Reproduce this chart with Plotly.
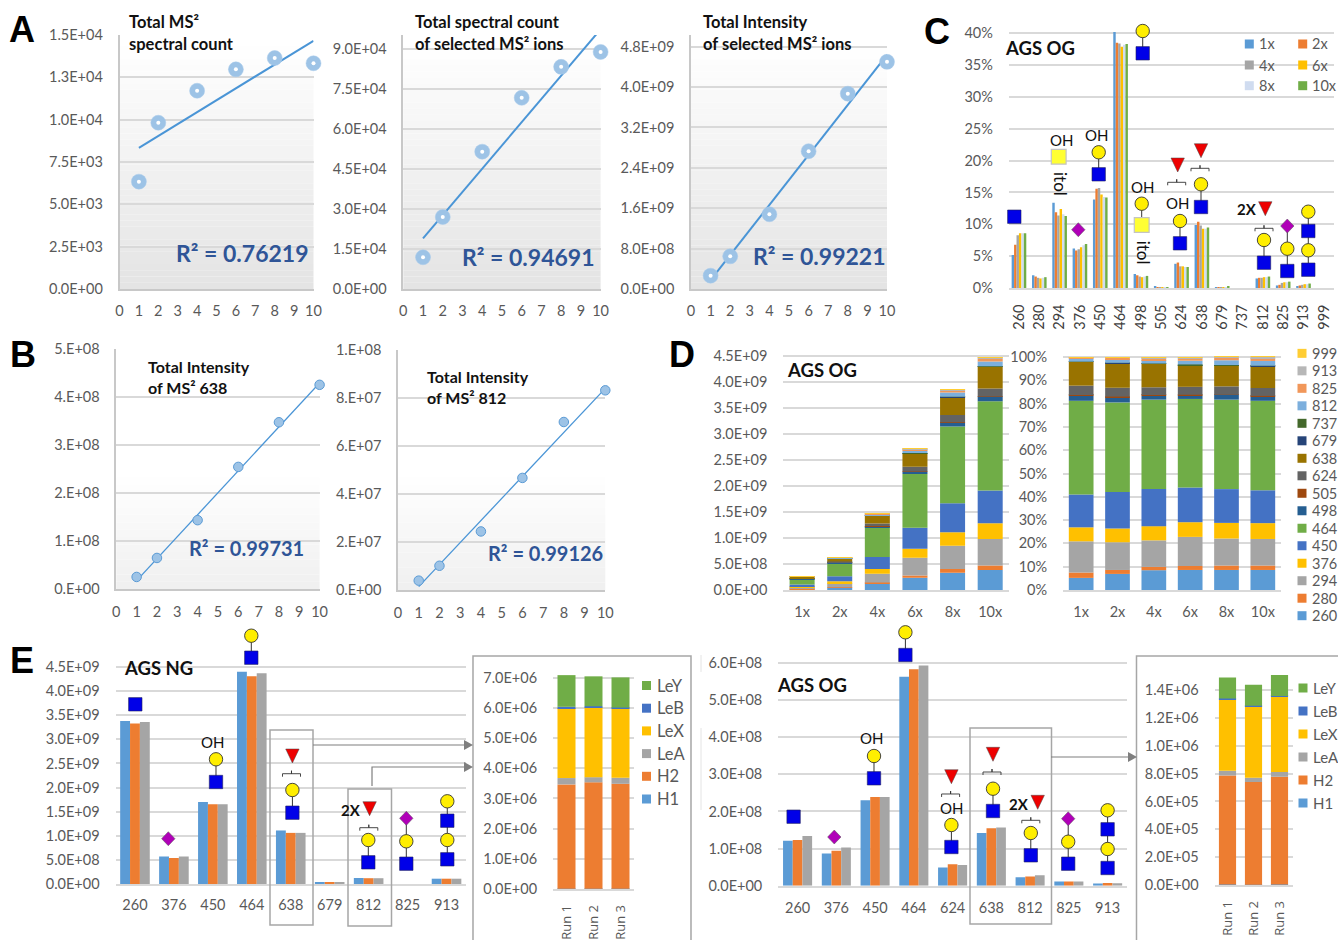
import plotly.graph_objects as go

W, H = 1338, 940
FONT = "Lato"
GREY = "#595959"
GRID = "#d9d9d9"

# ---------- data ----------
doses = [1, 2, 4, 6, 8, 10]
a1_vals = [6340, 9820, 11710, 12970, 13640, 13330]
a1_fit_x = [1, 10]
a1_fit_y = [8340, 14660]
a2_vals = [11900, 27000, 51500, 71700, 83300, 88900]
a2_fit_x = [1, 10]
a2_fit_y = [19000, 97400]
a3_vals = [2.64e8, 6.47e8, 1.48e9, 2.73e9, 3.87e9, 4.50e9]
a3_fit_x = [1, 10]
a3_fit_y = [1.78e8, 4.64e9]
b1_vals = [2.57e7, 6.53e7, 1.44e8, 2.55e8, 3.48e8, 4.26e8]
b1_fit_x = [1, 10]
b1_fit_y = [1.8e7, 4.3e8]
b2_vals = [3.9e6, 1.01e7, 2.44e7, 4.67e7, 7.0e7, 8.32e7]
b2_fit_x = [1, 10]
b2_fit_y = [1.4e6, 8.4e7]

c_ions = ["260", "280", "294", "376", "450", "464", "498", "505", "624", "638", "679", "737", "812", "825", "913", "999"]
c_1x = [5.2, 2.0, 13.4, 6.2, 13.9, 40.2, 2.2, 0.3, 3.8, 9.9, 0.05, 0, 1.5, 0.4, 0.3, 0]
c_2x = [6.8, 1.8, 11.9, 5.9, 15.6, 38.5, 2.0, 0.1, 4.0, 10.4, 0.15, 0, 1.6, 0.5, 0.4, 0]
c_4x = [8.3, 1.6, 11.4, 6.1, 15.7, 38.4, 1.8, 0.1, 3.4, 9.8, 0.1, 0, 1.6, 0.8, 0.5, 0]
c_6x = [8.6, 1.5, 12.4, 6.4, 14.7, 37.9, 1.7, 0.1, 3.4, 9.3, 0.1, 0, 1.7, 0.9, 0.6, 0]
c_8x = [8.6, 1.6, 11.6, 6.7, 14.3, 38.2, 1.8, 0.1, 3.3, 9.3, 0.1, 0, 1.7, 0.9, 0.6, 0]
c_10x = [8.6, 1.7, 11.3, 6.9, 14.2, 38.3, 1.9, 0.1, 3.3, 9.5, 0.2, 0, 1.8, 1.0, 0.7, 0]
c_series = ["1x", "2x", "4x", "6x", "8x", "10x"]

d_runs = ["1x", "2x", "4x", "6x", "8x", "10x"]
d_totals = [2.6e8, 6.3e8, 1.47e9, 2.72e9, 3.85e9, 4.47e9]
d_260 = [5.2, 6.9, 8.5, 8.6, 8.6, 8.6]
d_280 = [2.3, 1.7, 1.4, 1.7, 1.9, 1.9]
d_294 = [13.4, 11.9, 11.4, 12.5, 11.6, 11.4]
d_376 = [6.0, 5.9, 6.1, 6.3, 6.7, 6.8]
d_450 = [14.1, 15.7, 15.9, 14.9, 14.5, 14.1]
d_464 = [40.2, 38.4, 38.4, 38.0, 38.4, 38.4]
d_498 = [2.3, 2.2, 1.7, 1.5, 2.0, 1.9]
d_505 = [0.2, 0.3, 0.3, 0.3, 0.1, 0.2]
d_624 = [4.0, 3.8, 3.3, 3.4, 3.6, 3.4]
d_638 = [10.2, 10.6, 10.0, 9.2, 9.0, 9.4]
d_679 = [0.05, 0.05, 0.05, 0.1, 0.05, 0.05]
d_737 = [0.05, 0.05, 0.15, 0.3, 0.1, 0.1]
d_812 = [1.4, 1.6, 1.5, 1.6, 2.05, 2.05]
d_825 = [0.5, 0.5, 0.8, 0.9, 1.1, 1.2]
d_913 = [0.05, 0.3, 0.4, 0.4, 0.3, 0.5]
d_999 = [0.05, 0.1, 0.1, 0.1, 0.1, 0.1]

e1_ions = ["260", "376", "450", "464", "638", "679", "812", "825", "913"]
e1_run1 = [3.38e9, 5.7e8, 1.70e9, 4.40e9, 1.11e9, 4e7, 1.25e8, 0, 1.1e8]
e1_run2 = [3.33e9, 5.4e8, 1.655e9, 4.31e9, 1.06e9, 3.5e7, 1.2e8, 0, 1.1e8]
e1_run3 = [3.36e9, 5.7e8, 1.655e9, 4.37e9, 1.06e9, 3e7, 1.2e8, 0, 1.1e8]

e2_ions = ["260", "376", "450", "464", "624", "638", "812", "825", "913"]
e2_run1 = [1.21e8, 8.7e7, 2.30e8, 5.63e8, 4.9e7, 1.42e8, 2.25e7, 1.1e7, 6e6]
e2_run2 = [1.23e8, 9.4e7, 2.39e8, 5.83e8, 5.8e7, 1.55e8, 2.5e7, 1.1e7, 7e6]
e2_run3 = [1.34e8, 1.03e8, 2.39e8, 5.93e8, 5.6e7, 1.57e8, 2.8e7, 1.1e7, 6.5e6]

inset_runs = ["Run 1", "Run 2", "Run 3"]
i1_H1 = [5e3, 5e3, 5e3]
i1_H2 = [3.46e6, 3.53e6, 3.48e6]
i1_LeA = [2.1e5, 1.7e5, 2.0e5]
i1_LeX = [2.32e6, 2.32e6, 2.295e6]
i1_LeB = [4e4, 3e4, 3e4]
i1_LeY = [1.05e6, 0.99e6, 1.0e6]
i2_H1 = [3e3, 2e3, 3e3]
i2_H2 = [7.84e5, 7.38e5, 7.75e5]
i2_LeA = [3.3e4, 3.0e4, 3.3e4]
i2_LeX = [5.13e5, 5.15e5, 5.41e5]
i2_LeB = [6e3, 2e3, 5e3]
i2_LeY = [1.5e5, 1.5e5, 1.5e5]

a1_ticks = ["0.0E+00", "2.5E+03", "5.0E+03", "7.5E+03", "1.0E+04", "1.3E+04", "1.5E+04"]
a2_ticks = ["0.0E+00", "1.5E+04", "3.0E+04", "4.5E+04", "6.0E+04", "7.5E+04", "9.0E+04"]
a3_ticks = ["0.0E+00", "8.0E+08", "1.6E+09", "2.4E+09", "3.2E+09", "4.0E+09", "4.8E+09"]
b1_ticks = ["0.E+00", "1.E+08", "2.E+08", "3.E+08", "4.E+08", "5.E+08"]
b2_ticks = ["0.E+00", "2.E+07", "4.E+07", "6.E+07", "8.E+07", "1.E+08"]
d_ticks = ["0.0E+00", "5.0E+08", "1.0E+09", "1.5E+09", "2.0E+09", "2.5E+09", "3.0E+09", "3.5E+09", "4.0E+09", "4.5E+09"]
e2_ticks = ["0.0E+00", "1.0E+08", "2.0E+08", "3.0E+08", "4.0E+08", "5.0E+08", "6.0E+08"]
i1_ticks = ["0.0E+00", "1.0E+06", "2.0E+06", "3.0E+06", "4.0E+06", "5.0E+06", "6.0E+06", "7.0E+06"]
i2_ticks = ["0.0E+00", "2.0E+05", "4.0E+05", "6.0E+05", "8.0E+05", "1.0E+06", "1.2E+06", "1.4E+06"]

COL6 = ["#5b9bd5", "#ed7d31", "#a5a5a5", "#ffc000", "#d0dcf0", "#70ad47"]
COL16 = ["#5b9bd5", "#ed7d31", "#a5a5a5", "#ffc000", "#4472c4", "#70ad47", "#255e91", "#9e480e",
         "#636363", "#997300", "#264478", "#43682b", "#7cafdd", "#f1975a", "#b7b7b7", "#ffcd33"]

fig = go.Figure()
layout = dict(width=W, height=H, autosize=False, margin=dict(l=0, r=0, t=0, b=0, autoexpand=False),
              paper_bgcolor="white", plot_bgcolor="rgba(0,0,0,0)", barmode="overlay", showlegend=False,
              font=dict(family=FONT, size=14.5, color=GREY))
shapes, anns = [], []


def X(x):
    return x / W


def Y(y):
    return 1 - y / H


def axes(n, left, right, y0, ref_px, ref_val, top, xkw, ykw, line=GRID, showy=False):
    """Place subplot n from pixel box; y range derived from one reference tick."""
    sfx = str(n)
    base = dict(ticks="outside", tickcolor="rgba(0,0,0,0)", tickwidth=1,
                tickfont=dict(family=FONT, size=14.5, color=GREY), zeroline=False)
    xa = dict(base, domain=[X(left), X(right)], anchor="y" + sfx, showgrid=False, showline=True,
              linecolor=line, linewidth=1.5, **xkw)
    ya = dict(base, domain=[Y(y0), Y(top)], anchor="x" + sfx, showgrid=True, gridcolor=GRID, gridwidth=1.5,
              range=[0, ref_val * (y0 - top) / (y0 - ref_px)], showline=showy, linecolor="#c8c8c8", linewidth=1.5,
              **ykw)
    layout["xaxis" + sfx] = xa
    layout["yaxis" + sfx] = ya
    return "x" + sfx, "y" + sfx


def gradient(left, right, top, bottom, start, end, c0=255, c1=228, n=40):
    """Soft vertical background shading between start and end pixel rows."""
    for i in range(n):
        t0 = start + (end - start) * i / n
        t1 = start + (end - start) * (i + 1) / n
        v = int(round(c0 + (c1 - c0) * i / (n - 1)))
        shapes.append(dict(type="rect", xref="paper", yref="paper", x0=X(left), x1=X(right), y0=Y(t0), y1=Y(t1),
                           fillcolor=f"rgb({v},{v},{v})", line_width=0, layer="below"))


def ann(text, x, y, size=14.5, color=GREY, bold=False, anchor="center", angle=0, family=FONT):
    anns.append(dict(text=text, x=X(x), y=Y(y), xref="paper", yref="paper", showarrow=False, xanchor=anchor,
                     yanchor="middle", textangle=angle, borderpad=0,
                     font=dict(family=family, size=size, color=color, weight=700 if bold else 400)))


def scatter_panel(n, box, vals, fit_x, fit_y, ticks, tick_step, ref, style):
    left, right, y0, ref_px, ref_val, top = box
    tickvals = [i * tick_step for i in range(len(ticks))]
    xa, ya = axes(n, left, right, y0, ref_px, ref_val, top,
                  dict(range=[0, 10], tickmode="array", tickvals=list(range(11)), ticktext=[str(i) for i in range(11)],
                       ticklen=style["xlen"]),
                  dict(tickmode="array", tickvals=tickvals, ticktext=ticks, ticklen=12), line="#c8c8c8", showy=True)
    fig.add_trace(go.Scatter(x=fit_x, y=fit_y, xaxis=xa, yaxis=ya, mode="lines",
                             line=dict(color="#4a95d6", width=style["fit"])))
    fig.add_trace(go.Scatter(x=doses, y=vals, xaxis=xa, yaxis=ya, mode="markers", cliponaxis=False,
                             marker=dict(size=style["size"], color=style["fill"],
                                         line=dict(color=style["edge"], width=style["edgew"]))))
    if style.get("dot"):
        fig.add_trace(go.Scatter(x=doses, y=vals, xaxis=xa, yaxis=ya, mode="markers", cliponaxis=False,
                                 marker=dict(size=style["dot"], color="white", line_width=0)))


def bars(xa, ya, cats, series, colors, group, gap_width=None):
    n = len(series)
    w = group / n
    for i, (vals, col) in enumerate(zip(series, colors)):
        fig.add_trace(go.Bar(x=cats, y=vals, xaxis=xa, yaxis=ya, marker=dict(color=col, line_width=0),
                             width=w, offset=-group / 2 + i * w))


def stack(xa, ya, cats, series, colors, width):
    base = [0] * len(cats)
    for vals, col in zip(series, colors):
        fig.add_trace(go.Bar(x=cats, y=vals, base=list(base), xaxis=xa, yaxis=ya,
                             marker=dict(color=col, line_width=0), width=width, offset=-width / 2))
        base = [b + v for b, v in zip(base, vals)]


def swatch(x, y, col, text, tx, size=14.5):
    shapes.append(dict(type="rect", xref="paper", yref="paper", x0=X(x - 4.5), x1=X(x + 4.5), y0=Y(y - 4.5),
                       y1=Y(y + 4.5), fillcolor=col, line_width=0))
    ann(text, tx, y, size=size, color=GREY, anchor="left")


# ---------- glycan glyphs ----------
def path(pts, **kw):
    d = "M" + " L".join(f"{X(x):.5f},{Y(y):.5f}" for x, y in pts)
    shapes.append(dict(type="path", path=d, xref="paper", yref="paper", **kw))


def sym(kind, x, y):
    r = 6.7
    if kind == "s":
        shapes.append(dict(type="rect", xref="paper", yref="paper", x0=X(x - r), x1=X(x + r), y0=Y(y - r), y1=Y(y + r),
                           fillcolor="#0000e8", line=dict(color="#20205a", width=0.6)))
    elif kind == "p":
        r2 = 7.4
        shapes.append(dict(type="rect", xref="paper", yref="paper", x0=X(x - r2), x1=X(x + r2), y0=Y(y - r2),
                           y1=Y(y + r2), fillcolor="#ffff33", line=dict(color="#c4c4c4", width=1.2)))
    elif kind == "c":
        shapes.append(dict(type="circle", xref="paper", yref="paper", x0=X(x - r), x1=X(x + r), y0=Y(y - r), y1=Y(y + r),
                           fillcolor="#ffee00", line=dict(color="#333333", width=0.9)))
    elif kind == "d":
        path([(x, y - 7), (x + 6.7, y), (x, y + 7), (x - 6.7, y), (x, y - 7)], fillcolor="#b000b8",
             line=dict(color="#555555", width=0.5))
    elif kind == "t":
        path([(x - 6.7, y - 7), (x + 6.7, y - 7), (x, y + 7), (x - 6.7, y - 7)], fillcolor="#ee0000",
             line=dict(color="#444444", width=0.5))


def chain(x, items):
    if len(items) > 1:
        path([(x, items[0][1]), (x, items[-1][1])], line=dict(color="#333333", width=1))
    for kind, y in items:
        sym(kind, x, y)


def brace(x, y, w=9):
    path([(x - w, y + 3), (x - w, y), (x, y), (x, y - 3), (x, y), (x + w, y), (x + w, y + 3)],
         line=dict(color="#333333", width=0.9))


def oh(x, y):
    ann("OH", x, y, size=15, color="#111111")


def itol(x, y):
    ann("itol", x, y, size=17, color="#111111", angle=90)


def two_x(x, y):
    ann("2X", x, y, size=15, color="#111111", bold=True)


def fuc(x, ty, by, bx=None):
    sym("t", x, ty)
    brace(x if bx is None else bx, by)


# ---------- panel A ----------
A_STYLE = dict(size=15, fill="#9dc3e6", edge="#a9cbea", edgew=0.5, dot=4, fit=2, xlen=8)
B_STYLE = dict(size=9.5, fill="#9dc3e6", edge="#5b9bd5", edgew=1, fit=1.3, xlen=9)
gradient(119.5, 313.5, 35, 289, 40, 289)
gradient(403.3, 600.6, 35, 289, 40, 289)
gradient(691, 887, 35, 289, 40, 289)
scatter_panel(1, (119.5, 313.5, 289, 35, 15000, 35), a1_vals, a1_fit_x, a1_fit_y, a1_ticks, 2500, None, A_STYLE)
scatter_panel(2, (403.3, 600.6, 289, 49, 90000, 35), a2_vals, a2_fit_x, a2_fit_y, a2_ticks, 15000, None, A_STYLE)
scatter_panel(3, (691, 887, 289, 46.7, 4.8e9, 35), a3_vals, a3_fit_x, a3_fit_y, a3_ticks, 8e8, None, A_STYLE)
ann("Total MS²", 127.7, 22, size=16.5, color="#111111", bold=True, anchor="left")
ann("spectral count", 127.7, 44, size=16.5, color="#111111", bold=True, anchor="left")
ann("Total spectral count", 414, 22, size=16.5, color="#111111", bold=True, anchor="left")
ann("of selected MS² ions", 414, 44, size=16.5, color="#111111", bold=True, anchor="left")
ann("Total Intensity", 702, 22, size=16.5, color="#111111", bold=True, anchor="left")
ann("of selected MS² ions", 702, 44, size=16.5, color="#111111", bold=True, anchor="left")
RB = "#2f5597"
ann("R² = 0.76219", 242, 253, size=23, color=RB, bold=True)
ann("R² = 0.94691", 528.5, 257, size=23, color=RB, bold=True)
ann("R² = 0.99221", 819, 256, size=23, color=RB, bold=True)

# ---------- panel B ----------
gradient(116.3, 319.6, 470, 589.3, 470, 589.3, 255, 240, 16)
gradient(398, 605.3, 470, 590, 470, 590, 255, 240, 16)
scatter_panel(4, (116.3, 319.6, 589.3, 349.3, 5e8, 349.3), b1_vals, b1_fit_x, b1_fit_y, b1_ticks, 1e8, None, B_STYLE)
scatter_panel(5, (398, 605.3, 590, 350, 1e8, 350), b2_vals, b2_fit_x, b2_fit_y, b2_ticks, 2e7, None, B_STYLE)
ann("Total Intensity", 147.3, 366, size=16, color="#111111", bold=True, anchor="left")
ann("of MS² 638", 147.3, 387.3, size=16, color="#111111", bold=True, anchor="left")
ann("Total Intensity", 426, 376, size=16, color="#111111", bold=True, anchor="left")
ann("of MS² 812", 426, 397.7, size=16, color="#111111", bold=True, anchor="left")
ann("R² = 0.99731", 246.5, 548, size=20, color=RB, bold=True)
ann("R² = 0.99126", 545, 553, size=20, color=RB, bold=True)

# ---------- panel C ----------
xa, ya = axes(6, 1008.8, 1334, 288, 33.3, 40, 30,
              dict(type="category", categoryorder="array", categoryarray=c_ions, range=[-0.5, 15.5],
                   tickangle=-90, ticklen=9, tickfont=dict(family=FONT, size=14.5, color="#404040")),
              dict(tickmode="array", tickvals=[0, 5, 10, 15, 20, 25, 30, 35, 40],
                   ticktext=["0%", "5%", "10%", "15%", "20%", "25%", "30%", "35%", "40%"], ticklen=12))
bars(xa, ya, c_ions, [c_1x, c_2x, c_4x, c_6x, c_8x, c_10x], COL6, 0.72)
ann("AGS OG", 1040, 47.7, size=18.5, color="#111111", bold=True)
for (sx, tx), rows in (((1249.3, 1257.7), [(44, 0), (65, 2), (85.7, 4)]), ((1302.7, 1311), [(44, 1), (65, 3), (85.7, 5)])):
    for y, i in rows:
        swatch(sx, y, COL6[i], c_series[i], tx)

chain(1014.3, [("s", 216.7)])
oh(1061.7, 140); chain(1058.7, [("p", 156.7)]); itol(1061, 184)
chain(1078.3, [("d", 229.7)])
oh(1096, 134.7); chain(1098.7, [("c", 152.3), ("s", 174.3)])
chain(1142.7, [("c", 31), ("s", 53.3)])
oh(1142.7, 187.3); chain(1141.7, [("c", 203.7), ("p", 225)]); itol(1143, 252.7)
fuc(1177.7, 165, 182.3, 1176.7); oh(1177.3, 202.7); chain(1180, [("c", 221), ("s", 243.3)])
fuc(1201, 150.7, 168.3, 1200); chain(1201, [("c", 184.3), ("s", 207)])
two_x(1246.7, 209.3); fuc(1265.3, 208.7, 228.3, 1264); chain(1264, [("c", 240), ("s", 262.7)])
chain(1287.3, [("d", 226), ("c", 248.7), ("s", 271)])
chain(1308.3, [("c", 211.7), ("s", 231), ("c", 250.3), ("s", 269.7)])

# ---------- panel D ----------
d_series = [d_260, d_280, d_294, d_376, d_450, d_464, d_498, d_505, d_624, d_638, d_679, d_737, d_812, d_825, d_913, d_999]
d_names = ["260", "280", "294", "376", "450", "464", "498", "505", "624", "638", "679", "737", "812", "825", "913", "999"]
d_abs = [[p / 100 * t for p, t in zip(s, d_totals)] for s in d_series]
xa, ya = axes(7, 783.3, 1009, 590, 356, 4.5e9, 352,
              dict(type="category", categoryorder="array", categoryarray=d_runs, range=[-0.5, 5.5], ticklen=8),
              dict(tickmode="array", tickvals=[i * 5e8 for i in range(10)], ticktext=d_ticks, ticklen=12))
stack(xa, ya, d_runs, d_abs, COL16, 0.665)
xa, ya = axes(8, 1063, 1281, 590, 357, 100, 354,
              dict(type="category", categoryorder="array", categoryarray=d_runs, range=[-0.5, 5.5], ticklen=8),
              dict(tickmode="array", tickvals=list(range(0, 101, 10)), ticktext=[f"{v}%" for v in range(0, 101, 10)],
                   ticklen=12))
stack(xa, ya, d_runs, d_series, COL16, 0.68)
ann("AGS OG", 822, 370, size=18.5, color="#111111", bold=True)
for i, name in enumerate(d_names):
    swatch(1302, 615.7 - i * 17.49, COL16[i], name, 1310.6, size=14.5)

# ---------- panel E ----------
xa, ya = axes(9, 115.5, 466, 884, 667, 4.5e9, 664,
              dict(type="category", categoryorder="array", categoryarray=e1_ions, range=[-0.5, 8.5], ticklen=7),
              dict(tickmode="array", tickvals=[i * 5e8 for i in range(10)], ticktext=d_ticks, ticklen=12))
bars(xa, ya, e1_ions, [e1_run1, e1_run2, e1_run3], COL6[:3], 0.76)
ann("AGS NG", 158.5, 667.7, size=18.5, color="#111111", bold=True)
chain(251.3, [("c", 635.7), ("s", 657.7)])
chain(135.3, [("s", 704.3)])
chain(168.3, [("d", 838.7)])
oh(213, 742); chain(216, [("c", 759.3), ("s", 782)])
fuc(292.4, 756, 773.7, 291.5); chain(292.4, [("c", 790), ("s", 812.7)])
two_x(351, 810); fuc(369.6, 808.7, 827.7, 368.8); chain(368.3, [("c", 840), ("s", 862.3)])
chain(406.3, [("d", 818.3), ("c", 841.3), ("s", 863.7)])
chain(447.3, [("c", 801.3), ("s", 820.7), ("c", 840), ("s", 859.3)])

xa, ya = axes(10, 778.2, 1127, 885.7, 663, 6e8, 660,
              dict(type="category", categoryorder="array", categoryarray=e2_ions, range=[-0.5, 8.5], ticklen=8),
              dict(tickmode="array", tickvals=[i * 1e8 for i in range(7)], ticktext=e2_ticks, ticklen=12))
bars(xa, ya, e2_ions, [e2_run1, e2_run2, e2_run3], COL6[:3], 0.75)
ann("AGS OG", 812, 684.7, size=18.5, color="#111111", bold=True)
chain(905.4, [("c", 632.3), ("s", 655)])
chain(793.6, [("s", 816.7)])
chain(834.3, [("d", 837)])
oh(871.7, 738.3); chain(874, [("c", 756), ("s", 778.3)])
fuc(951.4, 776.7, 794, 950.6); oh(951, 808); chain(951.4, [("c", 825), ("s", 847)])
fuc(993, 754.3, 772, 992); chain(993, [("c", 788.7), ("s", 811)])
two_x(1019.4, 804); fuc(1037.7, 802.3, 820.3, 1030.8); chain(1030.8, [("c", 833), ("s", 855.3)])
chain(1068.2, [("d", 818.7), ("c", 841.7), ("s", 863.7)])
chain(1107.6, [("c", 810.3), ("s", 829.3), ("c", 849), ("s", 868)])

RUNFONT = dict(family="Open Sans", size=13, color=GREY)
le_names = ["H1", "H2", "LeA", "LeX", "LeB", "LeY"]
le_cols = ["#5b9bd5", "#ed7d31", "#a5a5a5", "#ffc000", "#4472c4", "#70ad47"]
xa, ya = axes(11, 553, 634, 889, 677.7, 7e6, 672,
              dict(type="category", categoryorder="array", categoryarray=inset_runs, range=[-0.5, 2.5], tickangle=-90,
                   ticklen=9, tickfont=RUNFONT),
              dict(tickmode="array", tickvals=[i * 1e6 for i in range(8)], ticktext=i1_ticks, ticklen=12))
stack(xa, ya, inset_runs, [i1_H1, i1_H2, i1_LeA, i1_LeX, i1_LeB, i1_LeY], le_cols, 0.667)
xa, ya = axes(12, 1214.5, 1292.5, 885, 690, 1.4e6, 670,
              dict(type="category", categoryorder="array", categoryarray=inset_runs, range=[-0.5, 2.5], tickangle=-90,
                   ticklen=9, tickfont=RUNFONT),
              dict(tickmode="array", tickvals=[i * 2e5 for i in range(8)], ticktext=i2_ticks, ticklen=12))
stack(xa, ya, inset_runs, [i2_H1, i2_H2, i2_LeA, i2_LeX, i2_LeB, i2_LeY], le_cols, 0.66)
for i, name in enumerate(le_names):
    swatch(646.5, 799 - i * 22.7, le_cols[i], name, 656, size=16.5)
    swatch(1303, 803 - i * 23, le_cols[i], name, 1311.5, size=15)

# frames and arrows
BOX = dict(color="#a6a6a6", width=1.5)
for x0, x1, y0, y1 in [(270, 313, 730, 925), (348, 391.5, 789, 926), (970, 1051.5, 728, 924)]:
    shapes.append(dict(type="rect", xref="paper", yref="paper", x0=X(x0), x1=X(x1), y0=Y(y0), y1=Y(y1), line=BOX))
path([(473, 945), (473, 656), (691, 656), (691, 945)], line=BOX)
path([(1338, 656), (1136.5, 656), (1136.5, 945)], line=BOX)
ARROW = dict(color="#7f7f7f", width=1.2)
path([(313, 745), (465, 745)], line=ARROW)
path([(372, 786), (372, 767), (465, 767)], line=ARROW)
path([(1051, 757), (1128, 757)], line=ARROW)
for ax, ay in [(473, 745), (473, 767), (1137, 757)]:
    path([(ax - 9, ay - 5), (ax, ay), (ax - 9, ay + 5), (ax - 9, ay - 5)], fillcolor="#7f7f7f", line_width=0)
path([(701, 655), (701, 672)], line=dict(color="#e4e4e4", width=1))
path([(701, 728), (701, 810)], line=dict(color="#e4e4e4", width=1))

# panel letters
for letter, x, y in [("A", 22, 30), ("B", 23, 355), ("C", 937, 31), ("D", 682, 355), ("E", 22, 660)]:
    ann(letter, x, y, size=36, color="#000000", bold=True, family="Liberation Sans")

layout["shapes"] = shapes
layout["annotations"] = anns
fig.update_layout(**layout)
fig.write_html("out.html", config=dict(displayModeBar=False),
               post_script="document.body.style.margin='0';document.body.style.overflow='hidden';")
